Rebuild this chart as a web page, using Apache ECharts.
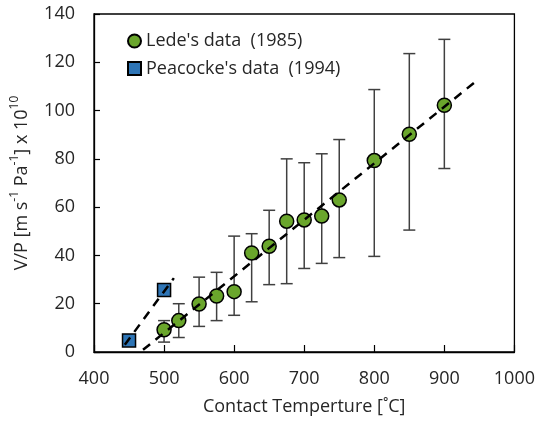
<!DOCTYPE html>
<html>
<head>
<meta charset="utf-8">
<script src="https://cdn.jsdelivr.net/npm/echarts@6/dist/echarts.min.js"></script>
<style>html,body{margin:0;padding:0;background:#fff}#c{width:538px;height:427px}</style>
</head>
<body>
<div id="c"></div>
<script>
const ledeX = [500, 521, 550, 575, 600, 625, 650, 675, 700, 725, 750, 800, 850, 900];
const ledeY = [9.2, 13, 19.9, 23.2, 25, 41, 43.8, 54.2, 54.7, 56.3, 63, 79.3, 90.2, 102.2];
const ledeHigh = [13, 20, 31, 33, 48, 49, 58.7, 80, 78.4, 82.1, 88, 108.7, 123.6, 129.5];
const ledeLow = [4.1, 6, 10.6, 13, 15.2, 20.8, 27.9, 28.3, 34.6, 36.7, 39.1, 39.6, 50.5, 76];
const peacX = [450, 500];
const peacY = [4.8, 25.7];
const ledeFitX = [470, 948];
const ledeFitY = [0.9, 112.8];
const peacFitX = [444, 514];
const peacFitY = [3, 30.6];
const xTicks = [400, 500, 600, 700, 800, 900, 1000];
const yTicks = [0, 20, 40, 60, 80, 100, 120, 140];
const seriesNames = ["Lede's data  (1985)", "Peacocke's data  (1994)"];

const FONT = 'Open Sans';
const TXT = '#262626';
const FS = 18;
const chart = echarts.init(document.getElementById('c'), null, {renderer: 'canvas'});

const errData = ledeX.map((x, i) => [x, ledeLow[i], ledeHigh[i]]);
const ledeData = ledeX.map((x, i) => [x, ledeY[i]]);
const peacData = peacX.map((x, i) => [x, peacY[i]]);
const ledeFit = ledeFitX.map((x, i) => [x, ledeFitY[i]]);
const peacFit = peacFitX.map((x, i) => [x, peacFitY[i]]);

chart.setOption({
  animation: false,
  backgroundColor: '#fff',
  textStyle: {fontFamily: FONT, color: TXT},
  grid: {left: 94, top: 14, right: 22, bottom: 75, show: true, borderColor: '#000', borderWidth: 1.3, backgroundColor: 'transparent'},
  legend: {
    data: [
      {name: seriesNames[0], icon: 'circle'},
      {name: seriesNames[1], icon: 'rect'}
    ],
    orient: 'vertical', left: 122, top: 27, padding: 5,
    itemWidth: 13, itemHeight: 13, itemGap: 9.6,
    textStyle: {fontFamily: FONT, fontSize: FS, color: TXT, lineHeight: 18}
  },
  xAxis: {
    type: 'value', min: xTicks[0], max: xTicks[xTicks.length - 1], interval: 100,
    name: 'Contact Temperture [˚C]', nameLocation: 'middle', nameGap: 46,
    nameTextStyle: {fontFamily: FONT, fontSize: FS, color: TXT},
    axisLine: {show: true, lineStyle: {color: '#000', width: 1.3}},
    axisTick: {show: true, inside: true, length: 7, lineStyle: {color: '#000', width: 1.2}},
    axisLabel: {fontFamily: FONT, fontSize: FS, color: TXT, margin: 18, formatter: v => String(v)},
    splitLine: {show: false}
  },
  yAxis: {
    type: 'value', min: yTicks[0], max: yTicks[yTicks.length - 1], interval: 20,
    name: '{n|V/P [m s}{s|-1}{n| Pa}{s|-1}{n|] x 10}{s|10}',
    nameLocation: 'middle', nameGap: 63,
    nameTextStyle: {
      fontFamily: FONT, fontSize: FS, color: TXT,
      rich: {
        n: {fontFamily: FONT, fontSize: FS, color: TXT, lineHeight: 22, verticalAlign: 'bottom'},
        s: {fontFamily: FONT, fontSize: 12, color: TXT, lineHeight: 22, verticalAlign: 'top', padding: [0, 0, 9, 0]}
      }
    },
    axisLine: {show: true, lineStyle: {color: '#000', width: 1.3}},
    axisTick: {show: true, inside: true, length: 6, lineStyle: {color: '#000', width: 1.2}},
    axisLabel: {fontFamily: FONT, fontSize: FS, color: TXT, margin: 19, formatter: v => String(v)},
    splitLine: {show: false}
  },
  series: [
    {
      type: 'custom', name: 'err', z: 2, silent: true,
      data: errData,
      renderItem: function (params, api) {
        const x = api.coord([api.value(0), api.value(1)])[0];
        const yLo = api.coord([api.value(0), api.value(1)])[1];
        const yHi = api.coord([api.value(0), api.value(2)])[1];
        const w = 6;
        const st = {stroke: '#404040', lineWidth: 1.5};
        return {
          type: 'group',
          children: [
            {type: 'line', shape: {x1: x, y1: yLo, x2: x, y2: yHi}, style: st},
            {type: 'line', shape: {x1: x - w, y1: yLo, x2: x + w, y2: yLo}, style: st},
            {type: 'line', shape: {x1: x - w, y1: yHi, x2: x + w, y2: yHi}, style: st}
          ]
        };
      }
    },
    {
      type: 'scatter', name: seriesNames[0], z: 3,
      data: ledeData, symbol: 'circle', symbolSize: 14,
      itemStyle: {color: '#6aa62c', borderColor: '#000', borderWidth: 1.5, opacity: 1}
    },
    {
      type: 'scatter', name: seriesNames[1], z: 3,
      data: peacData, symbol: 'rect', symbolSize: 13,
      itemStyle: {color: '#2e75b6', borderColor: '#000', borderWidth: 1.5, opacity: 1}
    },
    {
      type: 'line', name: 'fit1', z: 4, data: ledeFit, symbol: 'none', silent: true,
      lineStyle: {color: '#000', width: 2.5, type: [9, 7]}
    },
    {
      type: 'line', name: 'fit2', z: 4, data: peacFit, symbol: 'none', silent: true,
      lineStyle: {color: '#000', width: 2.5, type: [9, 7]}
    }
  ]
});
</script>
</body>
</html>
